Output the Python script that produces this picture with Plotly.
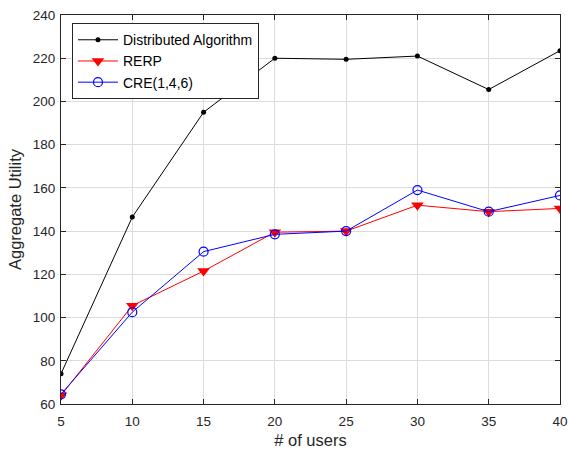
import plotly.graph_objects as go

users = [5, 10, 15, 20, 25, 30, 35, 40]
distributed = [74.0, 146.5, 195.0, 220.0, 219.5, 221.0, 205.5, 223.5]
rerp = [64.0, 105.5, 121.5, 139.5, 140.0, 152.0, 149.0, 150.5]
cre = [64.5, 102.5, 130.5, 138.5, 140.0, 159.0, 149.0, 156.5]

fig = go.Figure()
fig.add_trace(go.Scatter(x=users, y=distributed, name="Distributed Algorithm", mode="lines+markers",
                         line=dict(color="black", width=1), marker=dict(symbol="circle", size=5, color="black")))
fig.add_trace(go.Scatter(x=users, y=rerp, name="RERP", mode="lines+markers",
                         line=dict(color="red", width=1), marker=dict(symbol="triangle-down", size=11, color="red")))
fig.add_trace(go.Scatter(x=users, y=cre, name="CRE(1,4,6)", mode="lines+markers",
                         line=dict(color="blue", width=1),
                         marker=dict(symbol="circle-open", size=9, color="blue", line=dict(width=1.2))))

axis_common = dict(showline=True, linecolor="#262626", linewidth=1, mirror="ticks", ticks="inside",
                   ticklen=5, tickcolor="#262626", showgrid=True, gridcolor="#dcdcdc", gridwidth=1,
                   zeroline=False, automargin=False,
                   tickfont=dict(family="Liberation Sans, Arial", size=13.5, color="#262626"))

fig.update_layout(
    width=568, height=452,
    margin=dict(l=61, r=8, t=15, b=48),
    paper_bgcolor="white", plot_bgcolor="white",
    font=dict(family="Liberation Sans, Arial", color="#262626"),
    xaxis=dict(range=[5, 40], tickvals=[5, 10, 15, 20, 25, 30, 35, 40], ticklabelstandoff=5,
               title=dict(text="# of users", font=dict(size=16.5), standoff=6), **axis_common),
    yaxis=dict(range=[60, 240], tickvals=list(range(60, 241, 20)), ticklabelstandoff=2,
               title=dict(text="Aggregate Utility", font=dict(size=16.5), standoff=6), **axis_common),
    legend=dict(x=0.022, y=0.979, xanchor="left", yanchor="top", bgcolor="white",
                bordercolor="#262626", borderwidth=1, font=dict(size=14, color="black"),
                tracegroupgap=0, itemwidth=40),
    showlegend=True,
)

fig.write_html("out.html")
